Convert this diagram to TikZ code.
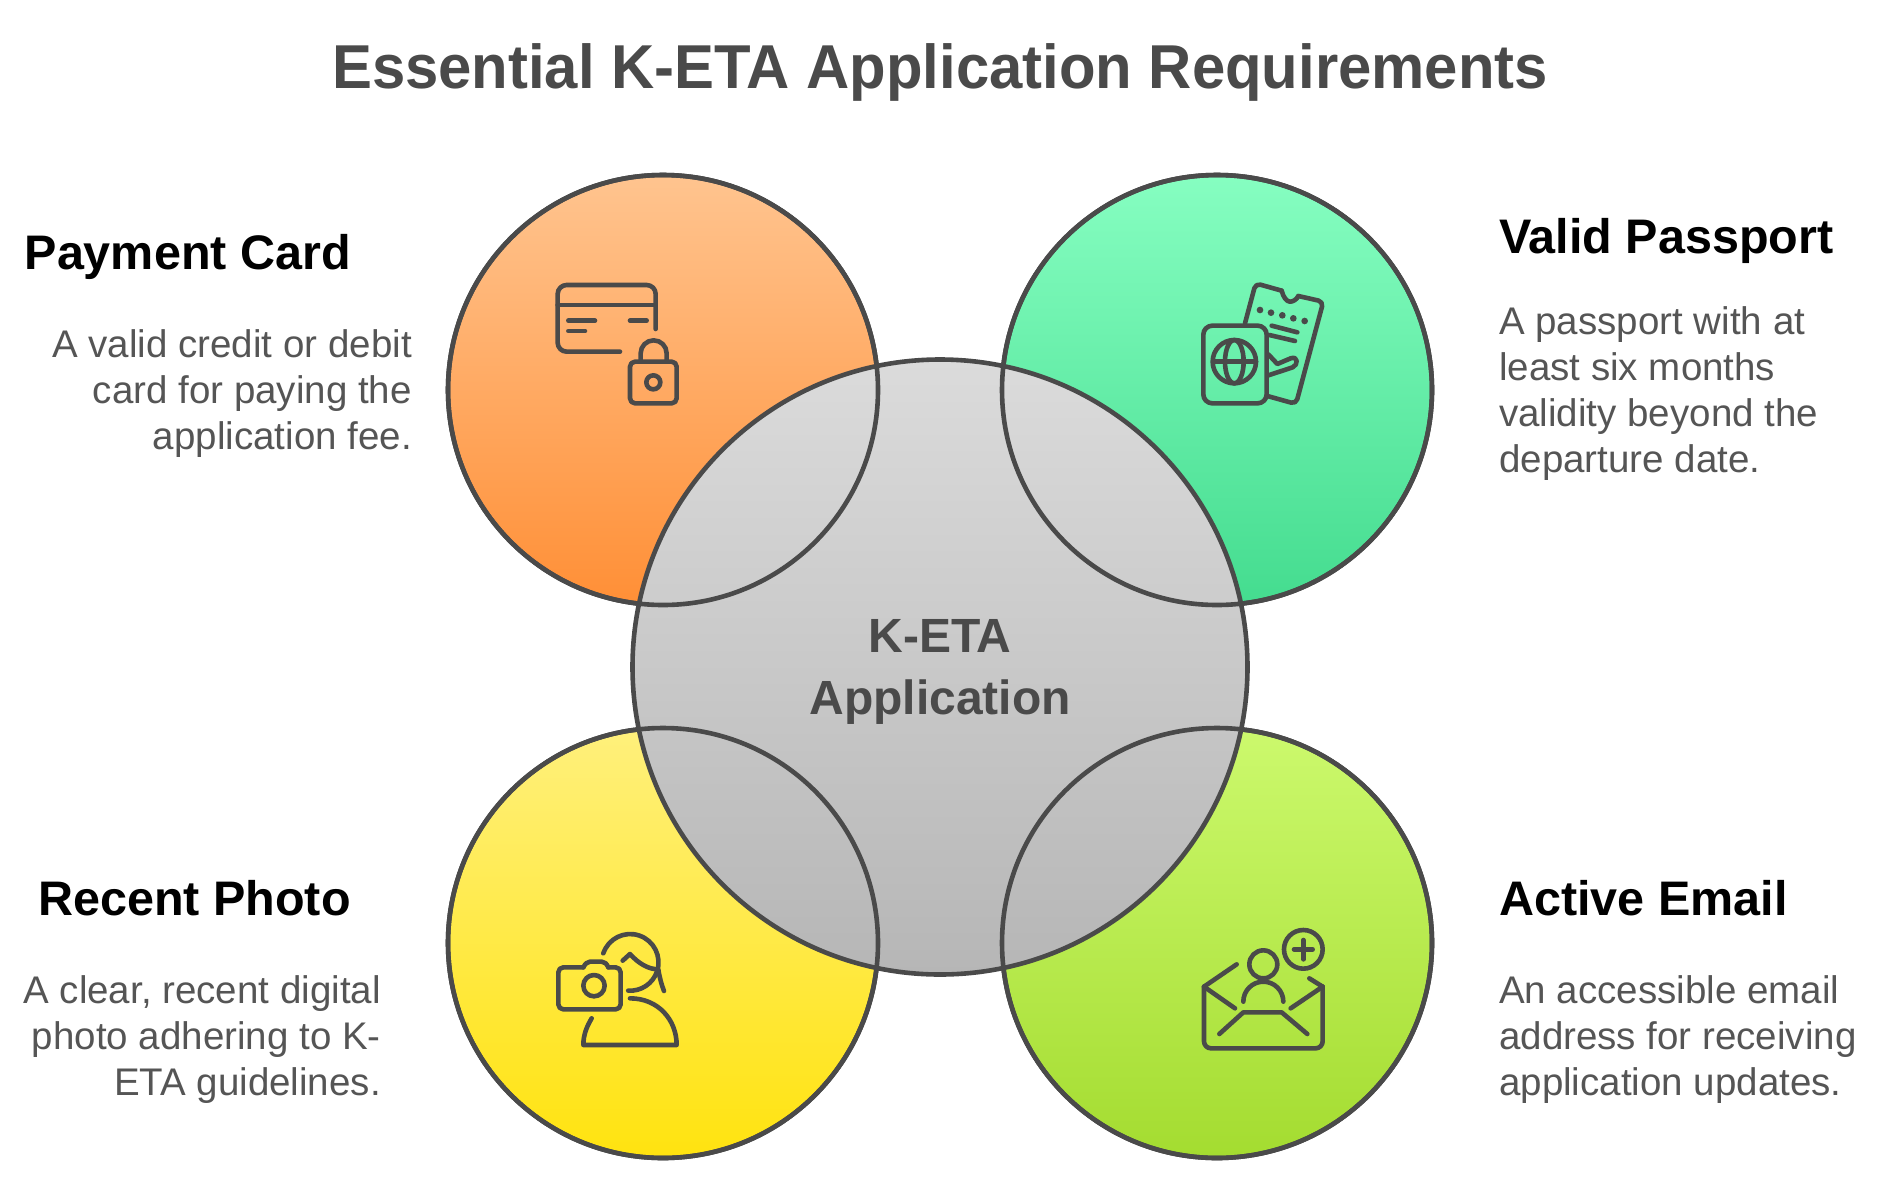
\documentclass[tikz,border=0pt]{standalone}
\usepackage{fontspec}
\setmainfont{Liberation Sans}
\definecolor{ink}{HTML}{4A4A4A}
\definecolor{bodyink}{HTML}{555555}
\definecolor{paytop}{HTML}{FFC48F}
\definecolor{paybot}{HTML}{FF8F36}
\definecolor{passtop}{HTML}{86FEC1}
\definecolor{passbot}{HTML}{44DC8F}
\definecolor{phototop}{HTML}{FFF07C}
\definecolor{photobot}{HTML}{FFE30F}
\definecolor{mailtop}{HTML}{CCF96D}
\definecolor{mailbot}{HTML}{A4DC30}
\definecolor{ketatop}{HTML}{DBDBDB}
\definecolor{ketabot}{HTML}{B6B6B6}
\usetikzlibrary{shapes}

\begin{document}
\begin{tikzpicture}[x=1pt, y=-1pt,
    main/.style={circle, draw=ink, line width=4.6pt, inner sep=0pt, outer sep=0pt, minimum size=430pt},
    ring/.style={draw=ink, line width=4.6pt},
    icon/.style={draw=ink, line width=4.6pt, line cap=round, line join=round},
    title/.style={font=\bfseries\fontsize{62}{70}\selectfont\addfontfeature{FakeStretch=0.965}, text=ink, inner sep=0pt},
    head/.style={font=\bfseries\fontsize{48.5}{58}\selectfont, text=black, inner sep=0pt},
    body/.style={font=\fontsize{38.5}{46}\selectfont, text=bodyink, inner sep=0pt}]
        \useasboundingbox (0,0) rectangle (1899,1195);
        \node[title, anchor=base] (heading) at (940, 88) {Essential K-ETA Application Requirements};

        \node[main, top color=paytop, bottom color=paybot] (payment) at (663, 390) {};
        \node[main, top color=passtop, bottom color=passbot] (passport) at (1217, 390) {};
        \node[main, top color=phototop, bottom color=photobot] (photo) at (663, 943) {};
        \node[main, top color=mailtop, bottom color=mailbot] (email) at (1217, 943) {};
        \node[main, minimum size=615pt, top color=ketatop, bottom color=ketabot] (keta) at (940, 667) {};
        \draw[ring] (payment.center) circle[radius=215];
        \draw[ring] (passport.center) circle[radius=215];
        \draw[ring] (photo.center) circle[radius=215];
        \draw[ring] (email.center) circle[radius=215];
        \node[text=ink, align=center, inner sep=0pt, font=\bfseries\fontsize{48}{62}\selectfont] (ketatext) at (940, 672) {K-ETA\\Application};

        \node[head, anchor=base east] (paymenthead) at (351, 269) {Payment Card};
        \node[body, anchor=north east, align=right] (paymentbody) at (412, 329) {A valid credit or debit\\card for paying the\\application fee.};
        \node[head, anchor=base west] (passporthead) at (1499, 253) {Valid Passport};
        \node[body, anchor=north west, align=left] (passportbody) at (1499, 306) {A passport with at\\least six months\\validity beyond the\\departure date.};
        \node[head, anchor=base east] (photohead) at (351, 915) {Recent Photo};
        \node[body, anchor=north east, align=right] (photobody) at (381, 975) {A clear, recent digital\\photo adhering to K-\\ETA guidelines.};
        \node[head, anchor=base west] (emailhead) at (1499, 915) {Active Email};
        \node[body, anchor=north west, align=left] (emailbody) at (1499, 975) {An accessible email\\address for receiving\\application updates.};

    \begin{scope}[shift={(520,250)}, x=0.3333pt, y=-0.3333pt]
        \draw[icon, rounded corners=9pt] (407,237) -- (407,105) -- (113,105) -- (113,305) -- (300,305);
        \draw[icon] (113,165) -- (407,165);
        \draw[icon] (145,212) -- (225,212);
        \draw[icon] (145,243) -- (195,243);
        \draw[icon] (330,212) -- (380,212);
        \draw[icon, rounded corners=5pt] (330,335) rectangle (470,460);
        \draw[icon] (362,335) -- (362,310) arc[start angle=180, end angle=360, radius=39] -- (440,335);
        \draw[icon] (400,397) circle[radius=21];
    \end{scope}

    \begin{scope}[shift={(1170,260)}, x=0.3333pt, y=-0.3333pt]
        \draw[icon, rounded corners=9pt] (100,197) rectangle (290,430);
        \draw[icon] (193,305) circle[radius=65];
        \draw[icon] (130,305) -- (258,305);
        \draw[icon] (193,305) ellipse[x radius=28, y radius=65];
        \draw[icon, rounded corners=5pt] (225,190) -- (257,70) -- (335,92);
        \draw[icon] (335,92) .. controls (340,112) and (350,125) .. (360,125) .. controls (370,125) and (380,118) .. (385,108);
        \draw[icon, rounded corners=5pt] (385,108) -- (460,125) -- (378,432) -- (292,408);
        \foreach \dotx/\doty in {270/150, 303/158, 337/166, 370/175, 404/183}
            \fill[ink] (\dotx,\doty) circle[radius=10];
        \draw[icon] (305,197) -- (382,217);
        \draw[icon] (298,225) -- (375,243);
        \draw[icon] (295,283) -- (322,312) -- (362,295) .. controls (385,287) and (385,315) .. (368,322) -- (292,347);
    \end{scope}

    \begin{scope}[shift={(530,910)}, x=0.3333pt, y=-0.3333pt]
        \draw[icon, rounded corners=5pt] (160,172) -- (85,172) -- (85,298) -- (272,298) -- (272,172) -- (235,172);
        \draw[icon] (160,172) .. controls (165,162) and (172,155) .. (180,155) -- (215,155) .. controls (225,155) and (230,162) .. (235,172);
        \draw[icon] (192,227) circle[radius=32];
        \draw[icon] (220,130) arc[start angle=198.6, end angle=454, radius=85];
        \draw[icon] (278,152) -- (300,132) .. controls (325,160) and (355,178) .. (385,178) .. controls (388,200) and (395,225) .. (402,243);
        \draw[icon] (300,265) .. controls (385,265) and (440,330) .. (440,405) -- (160,405) .. controls (160,375) and (170,350) .. (185,325);
    \end{scope}

    \begin{scope}[shift={(1180,910)}, x=0.3333pt, y=-0.3333pt]
        \draw[icon] (170,163) -- (72,230);
        \draw[icon, rounded corners=7pt] (72,230) -- (72,415) -- (428,415) -- (428,230);
        \draw[icon] (428,230) -- (388,205);
        \draw[icon] (72,230) -- (165,295);
        \draw[icon] (428,230) -- (332,295);
        \draw[icon] (118,372) -- (190,307) -- (305,307) -- (382,372);
        \draw[icon] (250,163) circle[radius=42];
        \draw[icon] (190,275) arc[start angle=180, end angle=360, radius=60];
        \draw[icon] (370,118) circle[radius=58];
        \draw[icon] (342,118) -- (398,118);
        \draw[icon] (370,90) -- (370,148);
    \end{scope}
    \end{tikzpicture}
\end{document}
